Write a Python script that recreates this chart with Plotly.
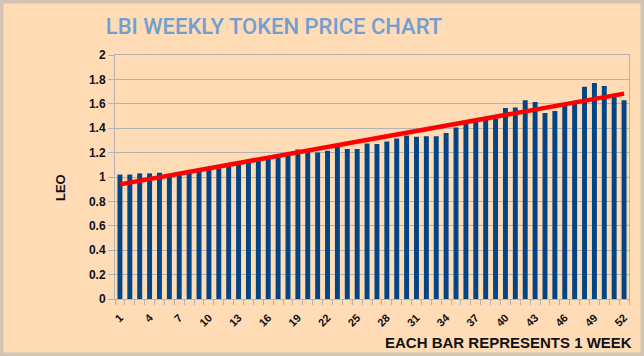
import numpy as np
import plotly.graph_objects as go

weeks = list(range(1, 53))
prices = [1.02, 1.02, 1.03, 1.03, 1.035, 1.02, 1.03, 1.04, 1.05, 1.06,
          1.07, 1.095, 1.11, 1.12, 1.14, 1.15, 1.17, 1.18, 1.225, 1.205,
          1.20, 1.215, 1.245, 1.23, 1.23, 1.275, 1.27, 1.29, 1.315, 1.34,
          1.33, 1.335, 1.335, 1.36, 1.405, 1.435, 1.455, 1.47, 1.475, 1.565,
          1.57, 1.63, 1.615, 1.525, 1.54, 1.585, 1.61, 1.74, 1.77, 1.745,
          1.665, 1.63]
x_tick_labels = [str(w) for w in weeks[::3]]
y_ticks = [0, 0.2, 0.4, 0.6, 0.8, 1, 1.2, 1.4, 1.6, 1.8, 2]
y_tick_labels = ["0", "0.2", "0.4", "0.6", "0.8", "1", "1.2", "1.4", "1.6", "1.8", "2"]

title_text = "LBI WEEKLY TOKEN PRICE CHART"
x_title = "EACH BAR REPRESENTS 1 WEEK"
y_title = "LEO"

# linear trend line from the data
coef = np.polyfit(weeks, prices, 1)
trend = np.polyval(coef, [weeks[0], weeks[-1]])

W, H = 644, 356
ml, mr, mt, mb = 115, 15, 55, 57
pw, ph = W - ml - mr, H - mt - mb

def px_x(p):
    return (p - ml) / pw

def px_y(p):
    return (H - mb - p) / ph

fig = go.Figure()
fig.add_trace(go.Bar(x=weeks, y=prices, marker=dict(color="#004586", line=dict(width=0)),
                     showlegend=False))
fig.add_trace(go.Scatter(x=[weeks[0], weeks[-1]], y=trend, mode="lines",
                         line=dict(color="#FF0000", width=4.5), showlegend=False))

tick_font = dict(family="Liberation Sans", size=12, color="#111111", weight="bold")

fig.update_layout(
    width=W, height=H,
    margin=dict(l=ml, r=mr, t=mt, b=mb),
    paper_bgcolor="#FFDBB6",
    plot_bgcolor="#FFDBB6",
    bargap=0.5,
    title=dict(text=title_text, xref="container", yref="container",
               x=274 / W, y=1 - 26.5 / H, xanchor="center", yanchor="middle",
               font=dict(family="Roboto", size=22, color="#729FCF", weight=500)),
    xaxis=dict(range=[0.5, 52.5], tickmode="array", tickvals=weeks[::3], ticktext=x_tick_labels,
               tickangle=-45, tickfont=dict(family="Liberation Sans", size=11, color="#111111", weight="bold"),
               ticklabelstandoff=7,
               ticks="", showgrid=False, zeroline=False,
               showline=True, linecolor="#B3B3B3", linewidth=1, mirror=True,
               minor=dict(tickmode="array", tickvals=[w - 0.5 for w in weeks] + [weeks[-1] + 0.5],
                          ticks="outside", ticklen=5, tickcolor="#B3B3B3", showgrid=False)),
    yaxis=dict(range=[0, 2], tickmode="array", tickvals=y_ticks, ticktext=y_tick_labels,
               tickfont=tick_font, ticks="outside", ticklen=6, tickcolor="#B3B3B3",
               showgrid=True, gridcolor="#B3B3B3", gridwidth=1, zeroline=False,
               showline=True, linecolor="#B3B3B3", linewidth=1, mirror=True),
    shapes=[dict(type="rect", xref="paper", yref="paper",
                 x0=px_x(0), x1=px_x(W), y0=px_y(H), y1=px_y(0),
                 line=dict(color="#D5C3B3", width=7), fillcolor="rgba(0,0,0,0)", layer="above")],
    annotations=[
        dict(text=x_title, xref="paper", yref="paper", x=px_x(634), y=px_y(342),
             xanchor="right", yanchor="middle", showarrow=False,
             font=dict(family="Liberation Sans", size=15, color="#111111", weight="bold")),
        dict(text=y_title, xref="paper", yref="paper", x=px_x(60), y=px_y(188),
             xanchor="center", yanchor="middle", textangle=-90, showarrow=False,
             font=dict(family="Liberation Sans", size=13, color="#111111", weight="bold")),
    ],
)

fig.write_html("out.html", config={"displayModeBar": False},
               post_script="document.body.style.margin='0';document.body.style.overflow='hidden';")
